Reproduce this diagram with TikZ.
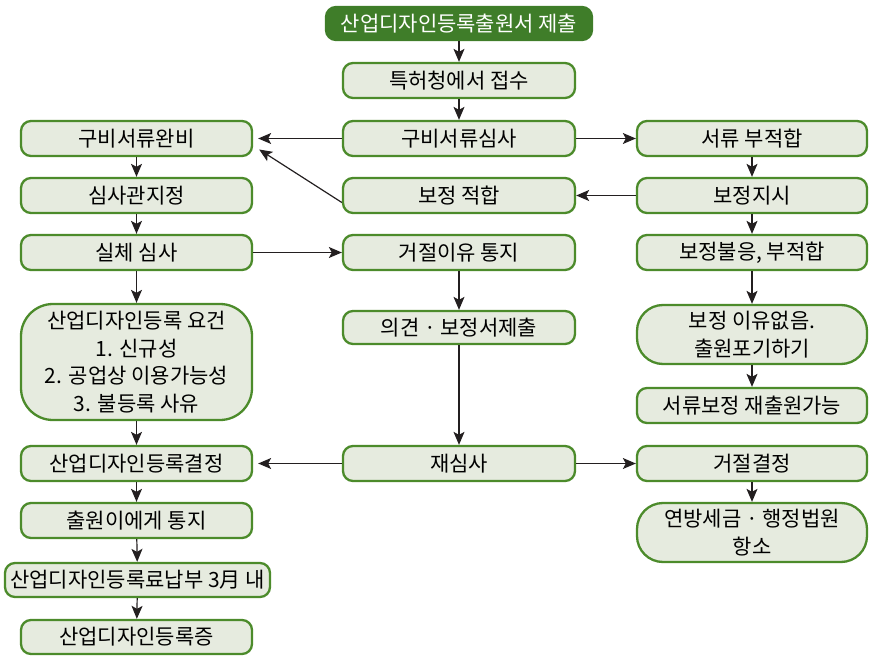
\documentclass[tikz,border=0pt]{standalone}
\usepackage{fontspec}
\setmainfont{Noto Sans CJK KR}
\usetikzlibrary{arrows.meta}
\definecolor{bordergreen}{HTML}{4C8B2B}
\definecolor{boxfill}{HTML}{E6EBDF}
\definecolor{topfill}{HTML}{3F7D29}
\definecolor{arrowcol}{HTML}{231F20}
\tikzset{
  box/.style={draw=bordergreen, fill=boxfill, line width=2.3pt, rounded corners=10pt,
    align=center, inner sep=0pt, font=\fontsize{21}{27.5}\selectfont, text=black},
  topbox/.style={box, fill=topfill, draw=topfill, text=white},
  flow/.style={draw=arrowcol, line width=1.2pt, -{Stealth[length=13pt,width=11pt,inset=3pt]}}
}
\begin{document}
\begin{tikzpicture}[x=1pt,y=-1pt]
\useasboundingbox (0,0) rectangle (873,658);
% top
\node[topbox, minimum width=266, minimum height=33] (submit) at (459,23.5) {산업디자인등록출원서 제출};
% middle column
\node[box, minimum width=232, minimum height=35] (recv) at (459,80.5) {특허청에서 접수};
\node[box, minimum width=232, minimum height=35] (docrev) at (459,138.5) {구비서류심사};
\node[box, minimum width=232, minimum height=35] (fixok) at (459,195.5) {보정 적합};
\node[box, minimum width=232, minimum height=35] (reject) at (459,252.5) {거절이유 통지};
\node[box, minimum width=232, minimum height=33] (opinion) at (459,327.5) {의견 · 보정서제출};
\node[box, minimum width=232, minimum height=35] (rereview) at (459,463.5) {재심사};
% left column
\node[box, minimum width=231, minimum height=35] (docok) at (136.5,138.5) {구비서류완비};
\node[box, minimum width=231, minimum height=35] (examiner) at (136.5,195.5) {심사관지정};
\node[box, minimum width=231, minimum height=35] (subst) at (136.5,252.5) {실체 심사};
\node[box, rounded corners=32pt, minimum width=231, minimum height=116] (req) at (136.5,362)
  {산업디자인등록 요건\\1. 신규성\\2. 공업상 이용가능성\\3. 불등록 사유};
\node[box, minimum width=231, minimum height=35] (decide) at (136.5,463.5) {산업디자인등록결정};
\node[box, minimum width=231, minimum height=35] (notify) at (136.5,520.5) {출원이에게 통지};
\node[box, minimum width=265, minimum height=34] (fee) at (137.5,580) {산업디자인등록료납부 3月 내};
\node[box, minimum width=231, minimum height=34] (cert) at (136.5,637) {산업디자인등록증};
% right column
\node[box, minimum width=230, minimum height=35] (docbad) at (752,138.5) {서류 부적합};
\node[box, minimum width=230, minimum height=35] (fixorder) at (752,195.5) {보정지시};
\node[box, minimum width=230, minimum height=35] (fixno) at (752,252.5) {보정불응, 부적합};
\node[box, rounded corners=26pt, minimum width=230, minimum height=59] (giveup) at (752,334.5) {보정 이유없음.\\출원포기하기};
\node[box, minimum width=230, minimum height=35] (refile) at (752,405.5) {서류보정 재출원가능};
\node[box, minimum width=230, minimum height=35] (refuse) at (752,463.5) {거절결정};
\node[box, rounded corners=26pt, minimum width=230, minimum height=59] (appeal) at (752,532.5) {연방세금 · 행정법원\\항소};
% arrows
\draw[flow] (submit) -- (recv);
\draw[flow] (recv) -- (docrev);
\draw[flow] (docrev) -- ([xshift=5pt]docok.east);
\draw[flow] (docrev) -- (docbad);
\draw[flow] (docbad) -- (fixorder);
\draw[flow] (fixorder) -- (fixok);
\draw[flow] ([yshift=-7pt]fixok.west) -- ([xshift=6pt,yshift=-11pt]docok.east);
\draw[flow] (fixorder) -- (fixno);
\draw[flow] (fixno) -- (giveup);
\draw[flow] (giveup) -- (refile);
\draw[flow] (docok) -- (examiner);
\draw[flow] (examiner) -- (subst);
\draw[flow] (subst) -- (reject);
\draw[flow] (reject) -- (opinion);
\draw[flow] (opinion) -- (rereview);
\draw[flow] (subst) -- (req);
\draw[flow] (req) -- (decide);
\draw[flow] (rereview) -- ([xshift=5pt]decide.east);
\draw[flow] (rereview) -- (refuse);
\draw[flow] (refuse) -- (appeal);
\draw[flow] (decide) -- (notify);
\draw[flow] (notify) -- (fee);
\draw[flow] (fee) -- (cert);
\end{tikzpicture}
\end{document}
